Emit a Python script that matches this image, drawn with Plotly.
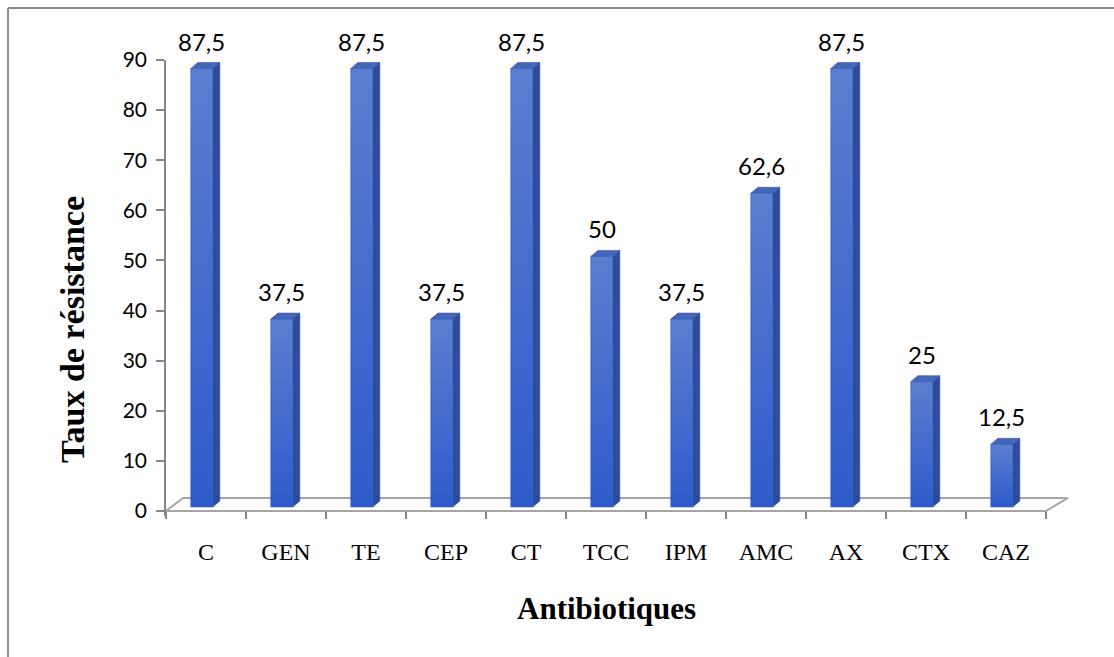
import plotly.graph_objects as go

# ---- data ----
categories = ["C", "GEN", "TE", "CEP", "CT", "TCC", "IPM", "AMC", "AX", "CTX", "CAZ"]
resistance = [87.5, 37.5, 87.5, 37.5, 87.5, 50, 37.5, 62.6, 87.5, 25, 12.5]
y_ticks = [0, 10, 20, 30, 40, 50, 60, 70, 80, 90]
x_title = "Antibiotiques"
y_title = "Taux de résistance"

# ---- 3D-look geometry (axis units) ----
FRONT_L, FRONT_R = -0.19, 0.085     # front face extent around category centre
DEPTH_X, DEPTH_Y = 0.0875, 1.2      # perspective depth offset
BASE = 0.8                          # bars sit slightly behind the floor's front edge
FLOOR_DX_L, FLOOR_DX_R, FLOOR_DY = 0.2125, 0.275, 2.6

n = len(categories)
xs = list(range(n))

# plot geometry (pixels)
W, H = 1114, 657
ML, MR, MT, MB = 166, 44, 60, 141
PW, PH = W - ML - MR, H - MT - MB

fig = go.Figure()

# floor
fig.add_trace(go.Scatter(
    x=[-0.5, n - 0.5, n - 0.5 + FLOOR_DX_R, -0.5 + FLOOR_DX_L, -0.5],
    y=[0, 0, FLOOR_DY, FLOOR_DY, 0],
    mode="lines", line=dict(color="#a6a6a6", width=2),
    hoverinfo="skip", showlegend=False))

# side and top faces
sx, sy = [], []
tx, ty = [], []
for c, v in zip(xs, resistance):
    xr = c + FRONT_R
    xl = c + FRONT_L
    top = BASE + v
    sx += [xr, xr + DEPTH_X, xr + DEPTH_X, xr, xr, None]
    sy += [BASE, BASE + DEPTH_Y, top + DEPTH_Y, top, BASE, None]
    tx += [xl, xr, xr + DEPTH_X, xl + DEPTH_X, xl, None]
    ty += [top, top, top + DEPTH_Y, top + DEPTH_Y, top, None]

fig.add_trace(go.Scatter(x=sx, y=sy, mode="lines", fill="toself",
                         fillcolor="#2c4c9c", line=dict(color="#27458f", width=0.6),
                         hoverinfo="skip", showlegend=False))
fig.add_trace(go.Scatter(x=tx, y=ty, mode="lines", fill="toself",
                         fillcolor="#4566b8", line=dict(color="#3a5aa8", width=0.6),
                         hoverinfo="skip", showlegend=False))

# front faces (gradient)
for c, v, name in zip(xs, resistance, categories):
    xl, xr = c + FRONT_L, c + FRONT_R
    fig.add_trace(go.Scatter(
        x=[xl, xr, xr, xl, xl], y=[BASE, BASE, BASE + v, BASE + v, BASE],
        mode="lines", fill="toself",
        fillgradient=dict(type="vertical",
                          colorscale=[[0, "#2e5bcc"], [1, "#5a7ed0"]]),
        line=dict(color="#3157b8", width=0.6),
        name=name, hovertemplate=f"{name}: %{{customdata}}<extra></extra>",
        customdata=[v] * 5, showlegend=False))

# data labels (centred on the bars' front faces)
labels = [f"{v:g}".replace(".", ",") for v in resistance]
front_mid = (FRONT_L + FRONT_R) / 2
for c, v, lab in zip(xs, resistance, labels):
    fig.add_annotation(x=c + front_mid, y=BASE + v + DEPTH_Y, text=lab, showarrow=False,
                       xanchor="center", yanchor="bottom", yshift=5,
                       font=dict(family="Lato", size=24, color="#000000"))

# axis titles
fig.add_annotation(xref="paper", yref="paper",
                   x=(606 - ML) / PW, y=(MT + PH - 608) / PH,
                   text=x_title, showarrow=False, xanchor="center", yanchor="middle",
                   font=dict(family="Liberation Serif", size=31, color="#000000",
                             weight="bold"))
fig.add_annotation(xref="paper", yref="paper",
                   x=(72 - ML) / PW, y=(MT + PH - 330) / PH,
                   text=y_title, showarrow=False, textangle=-90,
                   xanchor="center", yanchor="middle",
                   font=dict(family="Liberation Serif", size=34, color="#000000",
                             weight="bold"))

# border of the chart area (top and left edges)
bx0 = (8 - ML) / PW
bx1 = (W - ML) / PW
by_top = (MT + PH - 8) / PH
by_bot = (MT + PH - H) / PH
fig.add_shape(type="line", xref="paper", yref="paper",
              x0=bx0, x1=bx1, y0=by_top, y1=by_top,
              line=dict(color="#8c8c8c", width=2))
fig.add_shape(type="line", xref="paper", yref="paper",
              x0=bx0, x1=bx0, y0=by_top, y1=by_bot,
              line=dict(color="#8c8c8c", width=2))

y_min, y_max = -1, 90
fig.update_layout(
    width=W, height=H,
    margin=dict(l=ML, r=MR, t=MT, b=MB, pad=0),
    plot_bgcolor="white", paper_bgcolor="white",
    showlegend=False,
    xaxis=dict(
        range=[-0.5, n - 0.5 + 0.3],
        tickvals=xs, ticktext=categories, ticks="",
        showline=False, showgrid=False, zeroline=False,
        tickfont=dict(family="Liberation Serif", size=24, color="#000000"),
        ticklabelstandoff=24,
        anchor="free", position=(0 - y_min) / (y_max - y_min),
        minor=dict(tickvals=[i - 0.5 for i in range(n + 1)], ticks="outside",
                   ticklen=7, tickcolor="#868686", tickwidth=1.5, showgrid=False),
        fixedrange=True,
    ),
    yaxis=dict(
        range=[y_min, y_max], tickvals=y_ticks, ticks="outside",
        ticklen=8, tickcolor="#868686", tickwidth=1.5,
        showline=True, linecolor="#868686", linewidth=1.5,
        showgrid=False, zeroline=False,
        tickfont=dict(family="Lato", size=21, color="#000000"),
        ticklabelstandoff=5,
        fixedrange=True,
    ),
)

fig.write_html("out.html")
